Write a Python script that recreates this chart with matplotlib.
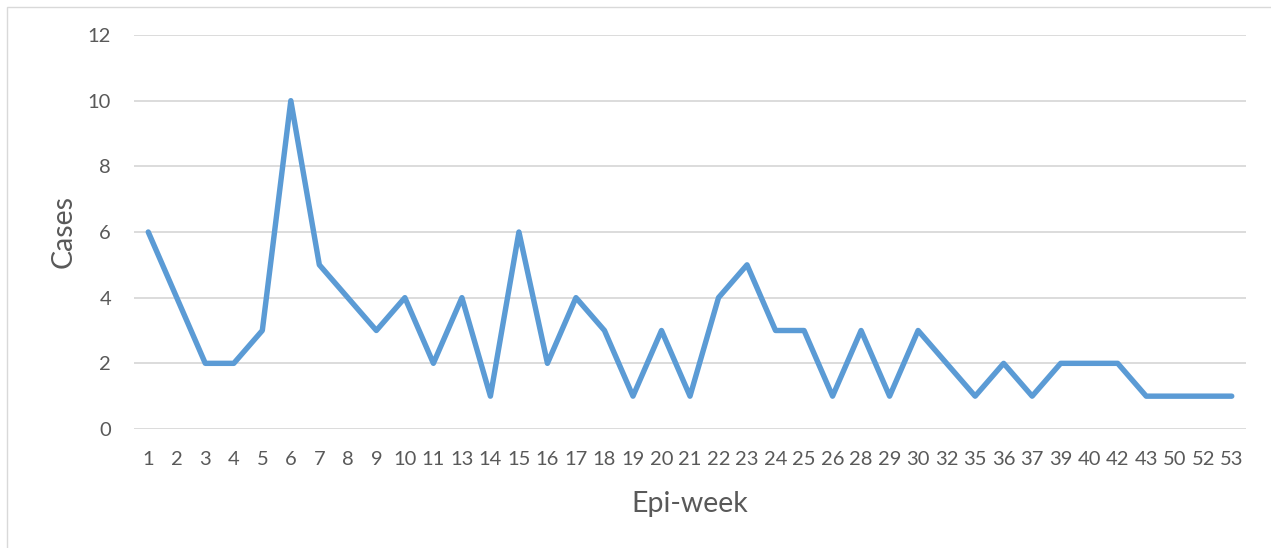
import numpy as np
import matplotlib.pyplot as plt
from matplotlib.patches import Rectangle

# epi-week categories and case counts
weeks = ['1', '2', '3', '4', '5', '6', '7', '8', '9', '10', '11', '13', '14',
         '15', '16', '17', '18', '19', '20', '21', '22', '23', '24', '25', '26',
         '28', '29', '30', '32', '35', '36', '37', '39', '40', '42', '43', '50',
         '52', '53']
cases = [6, 4, 2, 2, 3, 10, 5, 4, 3, 4, 2, 4, 1,
         6, 2, 4, 3, 1, 3, 1, 4, 5, 3, 3, 1,
         3, 1, 3, 2, 1, 2, 1, 2, 2, 2, 1, 1,
         1, 1]
yticks = [0, 2, 4, 6, 8, 10, 12]

plt.rcParams['font.family'] = ['Lato', 'DejaVu Sans']
text_color = '#595959'

W, H = 1271, 548
fig = plt.figure(figsize=(W / 100, H / 100), dpi=100)
ax = fig.add_axes([134 / W, 1 - 429 / H, 1112 / W, 394 / H])

# outer chart border (only left/top visible, the rest runs off the image)
fig.patches.append(Rectangle((7 / W, -0.5), 2, 1.5 - 7 / H, transform=fig.transFigure,
                             fill=False, edgecolor='#D9D9D9', linewidth=1))

x = np.arange(len(weeks))
ax.plot(x, cases, color='#5B9BD5', linewidth=3.9, solid_joinstyle='round',
        solid_capstyle='round', zorder=3)

ax.set_xlim(-0.5, len(weeks) - 0.5)
ax.set_ylim(0, 12)
ax.set_xticks(x)
ax.set_xticklabels(weeks)
ax.set_yticks(yticks)
ax.grid(axis='y', color='#D9D9D9', linewidth=1.3)
ax.tick_params(length=0, labelsize=14.5, labelcolor=text_color)
ax.tick_params(axis='x', pad=15.5)
ax.tick_params(axis='y', pad=16.5)
for s in ax.spines.values():
    s.set_visible(False)

fig.text(689.5 / W, 1 - 512 / H, 'Epi-week', fontsize=20.5, color=text_color,
         ha='center', va='baseline')
fig.text(72 / W, 1 - 232 / H, 'Cases', fontsize=20.5, color=text_color,
         ha='center', va='baseline', rotation=90, rotation_mode='anchor')

fig.savefig('out.png', dpi=100)
